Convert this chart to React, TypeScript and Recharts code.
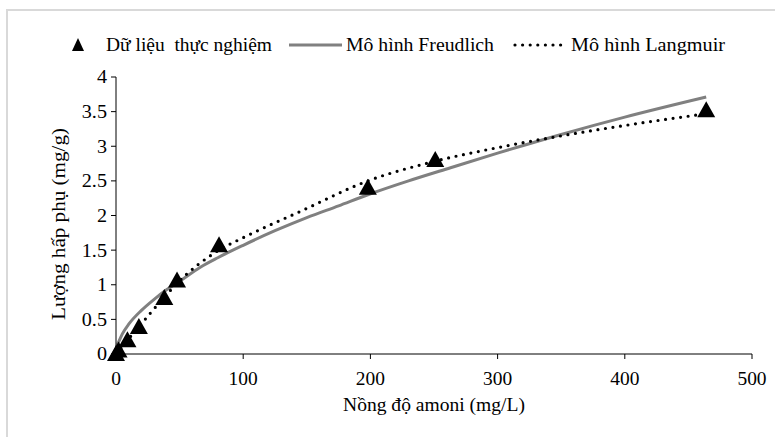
import React from "react";
import { ComposedChart, XAxis, YAxis, Line, Scatter } from "recharts";

// Experimental data (C, q)
const expC = [0, 2, 9, 18, 38, 48, 81, 198, 251, 464];
const expQ = [0, 0.05, 0.2, 0.39, 0.81, 1.06, 1.57, 2.4, 2.8, 3.52];

// Freundlich model curve
const frC = [0, 1, 3, 5, 10, 20, 30, 40, 50, 66, 80, 100, 125, 150, 175, 198, 230, 263, 300, 350, 400, 464];
const frQ = [0, 0.12, 0.21, 0.29, 0.43, 0.63, 0.79, 0.93, 1.05, 1.25, 1.39, 1.57, 1.78, 1.97, 2.14, 2.3, 2.5, 2.69, 2.9, 3.17, 3.42, 3.71];

// Langmuir model curve
const laC = [0, 9, 18, 27, 38, 48, 81, 100, 145, 198, 250, 300, 350, 400, 464];
const laQ = [0, 0.2, 0.39, 0.59, 0.82, 1.02, 1.5, 1.68, 2.06, 2.5, 2.78, 2.98, 3.15, 3.3, 3.47];

const xTicks = [0, 100, 200, 300, 400, 500];
const yTicks = [0, 0.5, 1, 1.5, 2, 2.5, 3, 3.5, 4];

const legendLabels = ["Dữ liệu  thực nghiệm", "Mô hình Freudlich", "Mô hình Langmuir"];
const xTitle = "Nồng độ amoni (mg/L)";
const yTitle = "Lượng hấp phụ (mg/g)";

const expData = expC.map((x, i) => ({ x, y: expQ[i] }));
const frData = frC.map((x, i) => ({ x, y: frQ[i] }));
const laData = laC.map((x, i) => ({ x, y: laQ[i] }));

const FONT = "Liberation Serif";

const Triangle = (props: any) => {
  const { cx, cy } = props;
  if (cx == null || cy == null) return null;
  return (
    <path
      d={`M${cx},${cy - 9} L${cx - 9},${cy + 7} L${cx + 9},${cy + 7} Z`}
      fill="#000"
    />
  );
};

const XTick = (props: any) => {
  const { x, y, payload } = props;
  return (
    <text
      x={x}
      y={y}
      dy="0.71em"
      textAnchor="middle"
      fontFamily={FONT}
      fontSize={18}
      fill="#000"
      transform={`translate(${x} 0) scale(1.08 1) translate(${-x} 0)`}
    >
      {payload.value}
    </text>
  );
};

const YTick = (props: any) => {
  const { x, y, payload } = props;
  return (
    <text
      x={x}
      y={y}
      dy="0.355em"
      textAnchor="end"
      fontFamily={FONT}
      fontSize={18}
      fill="#000"
      transform={`translate(${x} 0) scale(1.12 1) translate(${-x} 0)`}
    >
      {payload.value}
    </text>
  );
};

export default function App() {
  return (
    <div style={{ position: "absolute", left: 0, top: 0, width: 775, height: 437, overflow: "hidden", background: "#fff" }}>
      <div
        style={{
          position: "absolute",
          left: 6,
          top: 9,
          width: 800,
          height: 460,
          borderTop: "2px solid #d9d9d9",
          borderLeft: "2px solid #d9d9d9",
        }}
      />
      <ComposedChart
        width={775}
        height={437}
        margin={{ top: 77, right: 23, bottom: 53, left: 56 }}
        style={{ position: "absolute", left: 0, top: 0 }}
      >
        <XAxis
          type="number"
          dataKey="x"
          domain={[0, 500]}
          ticks={xTicks}
          height={30}
          tickSize={5}
          tickMargin={13}
          stroke="#000"
          tick={<XTick />}
          axisLine={{ stroke: "#000", strokeWidth: 1 }}
          tickLine={{ stroke: "#000" }}
        />
        <YAxis
          type="number"
          dataKey="y"
          domain={[0, 4]}
          ticks={yTicks}
          width={60}
          tickSize={5}
          tickMargin={4}
          stroke="#000"
          tick={<YTick />}
          axisLine={{ stroke: "#000", strokeWidth: 1 }}
          tickLine={{ stroke: "#000" }}
        />
        <Line
          data={frData}
          dataKey="y"
          type="monotone"
          stroke="#808080"
          strokeWidth={3}
          dot={false}
          activeDot={false}
          isAnimationActive={false}
        />
        <Line
          data={laData}
          dataKey="y"
          type="monotone"
          stroke="#000"
          strokeWidth={3.2}
          strokeDasharray="0 7.6"
          strokeLinecap="round"
          dot={false}
          activeDot={false}
          isAnimationActive={false}
        />
        <Scatter data={expData} dataKey="y" shape={<Triangle />} isAnimationActive={false} />
      </ComposedChart>

      {/* Legend and axis titles */}
      <svg width={775} height={437} style={{ position: "absolute", left: 0, top: 0 }}>
        <path d="M78,38 L72,51 L84,51 Z" fill="#000" />
        <line x1={289} y1={45} x2={342} y2={45} stroke="#808080" strokeWidth={3} />
        <line x1={515} y1={45} x2={567} y2={45} stroke="#000" strokeWidth={3.2} strokeDasharray="0 7.6" strokeLinecap="round" />
        <g fontFamily={FONT} fontSize={18} fill="#000">
          <text x={106} y={51} textLength={166} lengthAdjust="spacingAndGlyphs" style={{ whiteSpace: "pre" }}>
            {legendLabels[0]}
          </text>
          <text x={346} y={51} textLength={148} lengthAdjust="spacingAndGlyphs">
            {legendLabels[1]}
          </text>
          <text x={571} y={51} textLength={154} lengthAdjust="spacingAndGlyphs">
            {legendLabels[2]}
          </text>
          <text x={343} y={411} textLength={182} lengthAdjust="spacingAndGlyphs">
            {xTitle}
          </text>
          <text
            x={224}
            y={0}
            textAnchor="middle"
            textLength={192}
            lengthAdjust="spacingAndGlyphs"
            transform="translate(65 448) rotate(-90)"
          >
            {yTitle}
          </text>
        </g>
      </svg>
    </div>
  );
}
